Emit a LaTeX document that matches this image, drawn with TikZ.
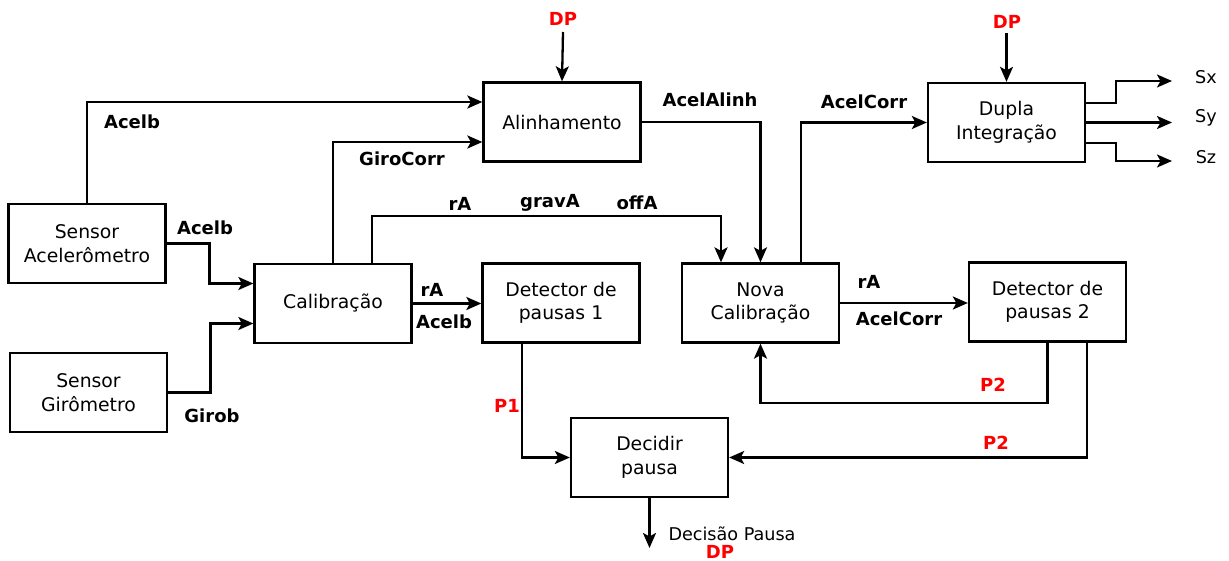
\documentclass[tikz,border=0pt]{standalone}
\usepackage{fontspec}
\setmainfont{DejaVu Sans}
\usetikzlibrary{arrows.meta}
\begin{document}
\begin{tikzpicture}[x=1pt,y=-1pt,
 blk/.style={draw, line width=2.3pt, minimum width=157pt, minimum height=79pt, inner sep=0pt, align=center, font=\fontsize{18.8}{23.5}\selectfont},
 lab/.style={inner sep=0pt, font=\bfseries\fontsize{18}{21}\selectfont},
 redlab/.style={lab, text=red},
 plainlab/.style={inner sep=0pt, font=\fontsize{17.6}{21}\selectfont},
 con/.style={line width=2.3pt, -{Stealth[length=15pt,width=13pt,inset=3.5pt]}}]
\useasboundingbox (0,0) rectangle (1229,561);
% blocks
\node[blk] (sa)  at (87,243.5)    {Sensor\\Acelerômetro};
\node[blk] (sg)  at (88.5,392.5)  {Sensor\\Girômetro};
\node[blk] (cal) at (333,303.5)   {Calibração};
\node[blk] (ali) at (562,122)     {Alinhamento};
\node[blk] (d1)  at (561,303)     {Detector de\\pausas 1};
\node[blk] (nc)  at (760.5,303)   {Nova\\Calibração};
\node[blk] (d2)  at (1047.5,302)  {Detector de\\pausas 2};
\node[blk] (dup) at (1006.5,122.5){Dupla\\Integração};
\node[blk] (dec) at (649.5,457.5) {Decidir\\pausa};
% free ends
\coordinate (dp1) at (563,32);
\coordinate (dp2) at (1006.5,33);
\coordinate (sx) at (1172,81);
\coordinate (sy) at (1172,122.5);
\coordinate (sz) at (1172,161);
\coordinate (decout) at (649.5,548);
% connectors
\draw[con] (sa.north) |- ([yshift=20pt]ali.west);
\draw[con] (sa.east) -| ([xshift=-44pt,yshift=20pt]cal.west) -- ([yshift=20pt]cal.west);
\draw[con] (sg.east) -| ([xshift=-43pt,yshift=-20pt]cal.west) -- ([yshift=-20pt]cal.west);
\draw[con] (cal.north) |- ([yshift=-20pt]ali.west);
\draw[con] ([xshift=39pt]cal.north) |- ([xshift=-39.5pt,yshift=46pt]nc.north) -- ([xshift=-39.5pt]nc.north);
\draw[con] (cal.east) -- (cal.east -| d1.west);
\draw[con] (ali.east) -| (nc.north);
\draw[con] ([xshift=40.5pt]nc.north) |- (dup.west);
\draw[con] (nc.east) -- (nc.east -| d2.west);
\draw[con] (d2.south) |- ([yshift=-59pt]nc.south) -- (nc.south);
\draw[con] ([xshift=39.5pt]d2.south) |- (dec.east);
\draw[con] ([xshift=-39pt]d1.south) |- (dec.west);
\draw[con] (dec.south) -- (decout);
\draw[con] (dp1) -- (ali.north);
\draw[con] (dp2) -- (dup.north);
\draw[con] ([yshift=19.5pt]dup.east) -- ++(30,0) |- (sx);
\draw[con] (dup.east) -- (sy);
\draw[con] ([yshift=-20.5pt]dup.east) -- ++(30,0) |- (sz);
% labels
\node[lab] (l1) at (132,122) {Acelb};
\node[lab] (l2) at (205,228) {Acelb};
\node[lab] (l3) at (212,416) {Girob};
\node[lab] (l4) at (402,159) {GiroCorr};
\node[lab] (l5) at (460,204) {rA};
\node[lab] (l6) at (550,203) {gravA};
\node[lab] (l7) at (637,203) {offA};
\node[lab] (l8) at (432,290) {rA};
\node[lab] (l9) at (444,322) {Acelb};
\node[lab] (l10) at (710,100) {AcelAlinh};
\node[lab] (l11) at (864,102) {AcelCorr};
\node[lab] (l12) at (869,282) {rA};
\node[lab] (l13) at (899,319) {AcelCorr};
\node[redlab] (l14) at (993,385) {P2};
\node[redlab] (l15) at (996,443) {P2};
\node[redlab] (l16) at (507,406) {P1};
\node[redlab] (l17) at (563,19) {DP};
\node[redlab] (l18) at (1007,22) {DP};
\node[plainlab] (l19) at (732,533.5) {Decisão Pausa};
\node[redlab] (l20) at (720,552) {DP};
\node[plainlab] (l21) at (1206,77) {Sx};
\node[plainlab] (l22) at (1206,118) {Sy};
\node[plainlab] (l23) at (1206,157) {Sz};
\end{tikzpicture}
\end{document}
